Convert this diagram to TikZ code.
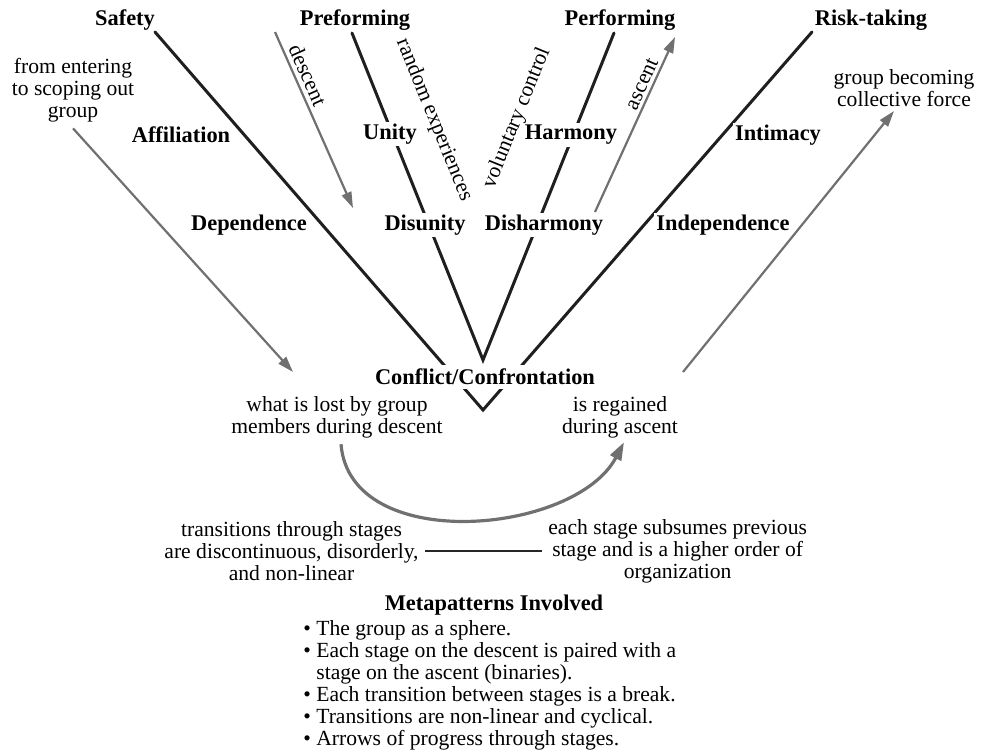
\documentclass[tikz,border=0pt]{standalone}
\usepackage{fontspec}
\setmainfont{Liberation Serif}
\usetikzlibrary{arrows.meta}
\definecolor{arrowgray}{RGB}{112,112,112}
\tikzset{
  heading/.style={font=\fontsize{11.2}{12}\selectfont\bfseries},
  stage/.style={heading, fill=white, inner sep=1pt},
  note/.style={align=center, inner sep=0pt},
  spine/.style={line width=1.5pt, black!88, line cap=round},
  flow/.style={arrowgray, line width=1.1pt, -{Triangle[length=8pt,width=5pt]}},
}
\begin{document}
\begin{tikzpicture}[x=0.5pt,y=-0.5pt,font=\fontsize{10.8}{11}\selectfont]
\useasboundingbox (0,0) rectangle (981,751);
% the two V's
\coordinate (safetyend) at (155,32);
\coordinate (riskend) at (812,32);
\coordinate (preend) at (352,33);
\coordinate (perfend) at (614,33);
\coordinate (outerv) at (483,410);
\coordinate (innerv) at (483,360);
\draw[spine] (safetyend) -- (outerv) -- (riskend);
\draw[spine] (preend) -- (innerv) -- (perfend);

\node[heading] (safety) at (125,20) {Safety};
\node[heading] (preforming) at (355,20) {Preforming};
\node[heading] (performing) at (620,20) {Performing};
\node[heading] (risk) at (871,20) {Risk-taking};

\node[stage] (affiliation) at (181,135) {Affiliation};
\node[stage] (unity) at (390,134) {Unity};
\node[stage] (harmony) at (571,135) {Harmony};
\node[stage] (intimacy) at (778,135) {Intimacy};
\node[stage] (dependence) at (249,225) {Dependence};
\node[stage] (disunity) at (425,225) {Disunity};
\node[stage] (disharmony) at (544,225) {Disharmony};
\node[stage] (independence) at (723,225) {Independence};
\node[stage, inner sep=2pt] (conflict) at (485,377) {Conflict/Confrontation};

% descent and ascent
\coordinate (descenttop) at (275,32);
\coordinate (descenttip) at (353,208);
\coordinate (ascentbot) at (595,212);
\coordinate (ascenttip) at (675,37);
\draw[flow] (descenttop) -- (descenttip);
\draw[flow] (ascentbot) -- (ascenttip);
\node[rotate=-66] (descentlbl) at (308,75) {descent};
\node[rotate=66] (ascentlbl) at (642,84) {ascent};
\node[rotate=-68] (random) at (434,120) {random experiences};
\node[rotate=68] (voluntary) at (517,118) {voluntary control};

\node[note] (entering) at (73,90) {from entering\\to scoping out\\group};
\node[note] (force) at (904,88) {group becoming\\collective force};
\coordinate (enteringtip) at (293,372);
\coordinate (forcestart) at (683,372);
\draw[flow] ([yshift=-3pt]entering.south) -- (enteringtip);
\draw[flow] (forcestart) -- ([xshift=-5pt,yshift=-2pt]force.south);

\node[note] (lost) at (337,417) {what is lost by group\\members during descent};
\node[note] (regained) at (620,417) {is regained\\during ascent};
\draw[arrowgray, line width=1.6pt, -{Triangle[length=9pt,width=6pt]}]
  ([xshift=2pt,yshift=-3pt]lost.south) .. controls (350,555) and (575,535) .. ([xshift=2pt,yshift=-2pt]regained.south);

\node[note, anchor=east] (transitions) at (419,551) {transitions through stages\\are discontinuous, disorderly,\\and non-linear};
\node[note, anchor=west] (subsumes) at (548,551) {each stage subsumes previous\\stage and is a higher order of\\organization};
\draw[line width=0.9pt, black!85] ([xshift=3pt]transitions.east) -- ([xshift=-3pt]subsumes.west);

\node[heading] (metatitle) at (494,605) {Metapatterns Involved};
\node[anchor=north west, align=left, inner sep=0pt] (metalist) at (303,620)
  {\textbullet\ The group as a sphere.\\
   \textbullet\ Each stage on the descent is paired with a\\
   \hphantom{\textbullet\ }stage on the ascent (binaries).\\
   \textbullet\ Each transition between stages is a break.\\
   \textbullet\ Transitions are non-linear and cyclical.\\
   \textbullet\ Arrows of progress through stages.};
\end{tikzpicture}
\end{document}
